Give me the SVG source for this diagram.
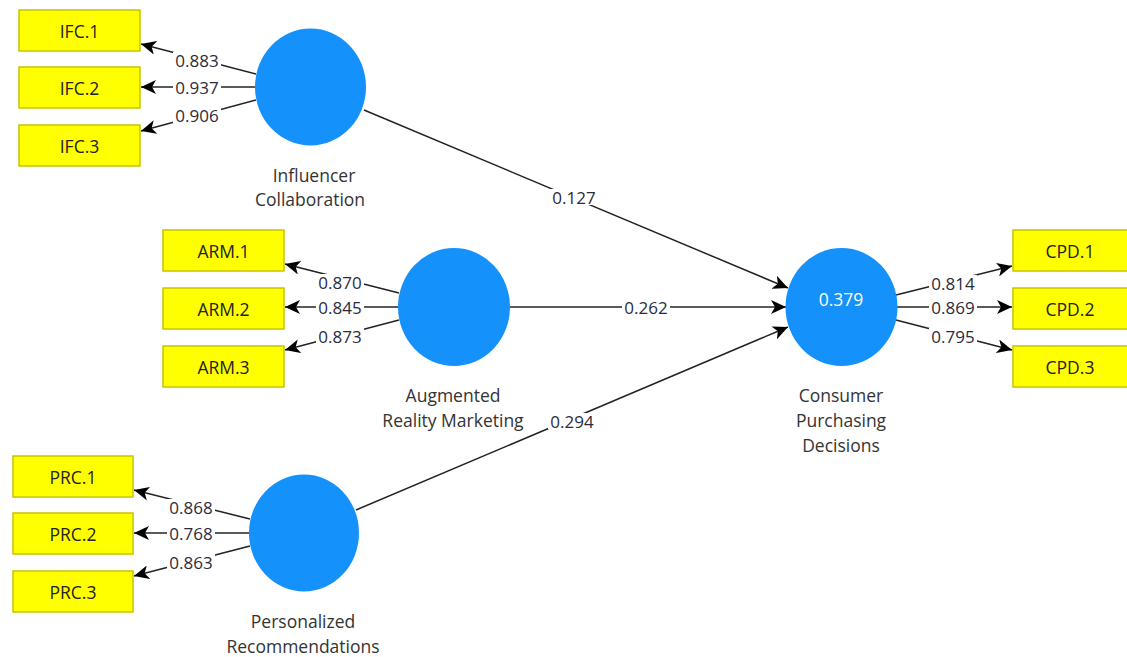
<svg xmlns="http://www.w3.org/2000/svg" width="1127" height="657" viewBox="0 0 1127 657">
<style>
.bg{fill:#ffffff}
.ind rect{fill:#ffff00;stroke:#c8c400;stroke-width:1.5}
.ind text{font-family:"Open Sans","Noto Sans",sans-serif;font-size:17.5px;fill:#222;text-anchor:middle;dominant-baseline:central}
.lv ellipse{fill:#1591fb}
.lv text{font-family:"Open Sans","Noto Sans",sans-serif;font-size:17.5px;fill:#333;text-anchor:middle}
.lv text.r2{fill:#ffffff}
.conn line{stroke:#222;stroke-width:1.5;marker-end:url(#ah)}
.lbl rect{fill:#ffffff}
.lbl text{font-family:"Open Sans","Noto Sans",sans-serif;font-size:17px;fill:#2b2b3a;text-anchor:middle;dominant-baseline:central}
</style>
<defs>
<marker id="ah" markerUnits="userSpaceOnUse" markerWidth="16" markerHeight="14" refX="15" refY="7" orient="auto">
<path d="M0,0 L15,7 L0,14 L4,7 z" fill="#000"/>
</marker>
</defs>
<rect class="bg" x="0" y="0" width="1127" height="657"/>

<g id="connectors" class="conn">
<line x1="256" y1="74" x2="141" y2="44"/>
<line x1="256" y1="87" x2="141" y2="87"/>
<line x1="256" y1="100" x2="141" y2="131"/>
<line x1="399" y1="293" x2="285" y2="264"/>
<line x1="399" y1="307" x2="285" y2="307"/>
<line x1="399" y1="320" x2="285" y2="350"/>
<line x1="250" y1="519" x2="134" y2="490"/>
<line x1="250" y1="533" x2="134" y2="533"/>
<line x1="250" y1="546" x2="134" y2="576"/>
<line x1="896" y1="295" x2="1012" y2="266"/>
<line x1="897" y1="307" x2="1012" y2="307"/>
<line x1="896" y1="320" x2="1012" y2="350"/>
<line x1="364" y1="110" x2="788" y2="288"/>
<line x1="510" y1="307" x2="786" y2="307"/>
<line x1="356" y1="510" x2="788" y2="327"/>
</g>

<g id="labels" class="lbl">
<rect x="173" y="52" width="48" height="16"/><text x="197" y="60">0.883</text>
<rect x="173" y="79" width="48" height="16"/><text x="197" y="87">0.937</text>
<rect x="173" y="107" width="48" height="16"/><text x="197" y="115">0.906</text>
<rect x="316" y="274" width="48" height="16"/><text x="340" y="282">0.870</text>
<rect x="316" y="299" width="48" height="16"/><text x="340" y="307">0.845</text>
<rect x="316" y="328" width="48" height="16"/><text x="340" y="336">0.873</text>
<rect x="167" y="499" width="48" height="16"/><text x="191" y="507">0.868</text>
<rect x="167" y="525" width="48" height="16"/><text x="191" y="533">0.768</text>
<rect x="167" y="554" width="48" height="16"/><text x="191" y="562">0.863</text>
<rect x="929" y="275" width="48" height="16"/><text x="953" y="283">0.814</text>
<rect x="929" y="299" width="48" height="16"/><text x="953" y="307">0.869</text>
<rect x="929" y="328" width="48" height="16"/><text x="953" y="336">0.795</text>
<rect x="550" y="189" width="48" height="16"/><text x="574" y="197">0.127</text>
<rect x="622" y="299" width="48" height="16"/><text x="646" y="307">0.262</text>
<rect x="548" y="413" width="48" height="16"/><text x="572" y="421">0.294</text>
</g>

<g id="IFC.1" class="ind"><rect x="19" y="10" width="121" height="41"/><text x="79.5" y="31">IFC.1</text></g>
<g id="IFC.2" class="ind"><rect x="19" y="67" width="121" height="41"/><text x="79.5" y="88">IFC.2</text></g>
<g id="IFC.3" class="ind"><rect x="19" y="125" width="121" height="41"/><text x="79.5" y="146">IFC.3</text></g>

<g id="ARM.1" class="ind"><rect x="163" y="230" width="121" height="41"/><text x="223.5" y="251">ARM.1</text></g>
<g id="ARM.2" class="ind"><rect x="163" y="288" width="121" height="41"/><text x="223.5" y="309">ARM.2</text></g>
<g id="ARM.3" class="ind"><rect x="163" y="346" width="121" height="41"/><text x="223.5" y="367">ARM.3</text></g>

<g id="PRC.1" class="ind"><rect x="13" y="456" width="120" height="41"/><text x="73" y="477">PRC.1</text></g>
<g id="PRC.2" class="ind"><rect x="13" y="513" width="120" height="41"/><text x="73" y="534">PRC.2</text></g>
<g id="PRC.3" class="ind"><rect x="13" y="571" width="120" height="41"/><text x="73" y="592">PRC.3</text></g>

<g id="CPD.1" class="ind"><rect x="1013" y="230" width="121" height="41"/><text x="1070" y="251">CPD.1</text></g>
<g id="CPD.2" class="ind"><rect x="1013" y="288" width="121" height="41"/><text x="1070" y="309">CPD.2</text></g>
<g id="CPD.3" class="ind"><rect x="1013" y="346" width="121" height="41"/><text x="1070" y="367">CPD.3</text></g>

<g id="InfluencerCollaboration" class="lv">
<ellipse cx="310.5" cy="87" rx="55.5" ry="58.5"/>
<text x="314" y="182">Influencer</text>
<text x="310" y="206">Collaboration</text>
</g>
<g id="AugmentedRealityMarketing" class="lv">
<ellipse cx="454" cy="307" rx="56" ry="59"/>
<text x="453" y="402">Augmented</text>
<text x="453" y="427">Reality Marketing</text>
</g>
<g id="PersonalizedRecommendations" class="lv">
<ellipse cx="304" cy="533" rx="55" ry="58.5"/>
<text x="303" y="628">Personalized</text>
<text x="303" y="653">Recommendations</text>
</g>
<g id="ConsumerPurchasingDecisions" class="lv">
<ellipse cx="841.5" cy="307" rx="56" ry="59"/>
<text class="r2" x="841" y="306">0.379</text>
<text x="841" y="402">Consumer</text>
<text x="841" y="427">Purchasing</text>
<text x="841" y="452">Decisions</text>
</g>
</svg>
